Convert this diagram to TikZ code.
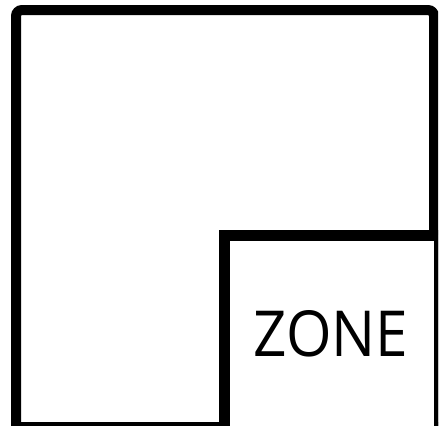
\documentclass[tikz,border=0pt]{standalone}
\usepackage{fontspec}
\setmainfont{Open Sans}
\usepackage{graphicx}
\tikzset{
  wall/.style={draw=black, line width=10pt},
  zonebox/.style={draw=black, fill=white, line width=11pt},
  zonelabel/.style={anchor=south west, inner sep=0pt, text=black}
}
\begin{document}
\begin{tikzpicture}[x=1pt,y=-1pt]
\useasboundingbox (0,0) rectangle (445,426);
\begin{scope}
  \clip (0,0) rectangle (438,426);
  \draw[wall, rounded corners=6pt] (16,432) -- (16,10) -- (434,10) -- (434,432);
  \draw[wall] (11,427) -- (439,427);
  \path[zonebox] (224.5,235) rectangle (439,445);
\end{scope}
\node[zonelabel] (zone) at (253,357) {\resizebox{155pt}{46pt}{ZONE}};
\end{tikzpicture}
\end{document}
